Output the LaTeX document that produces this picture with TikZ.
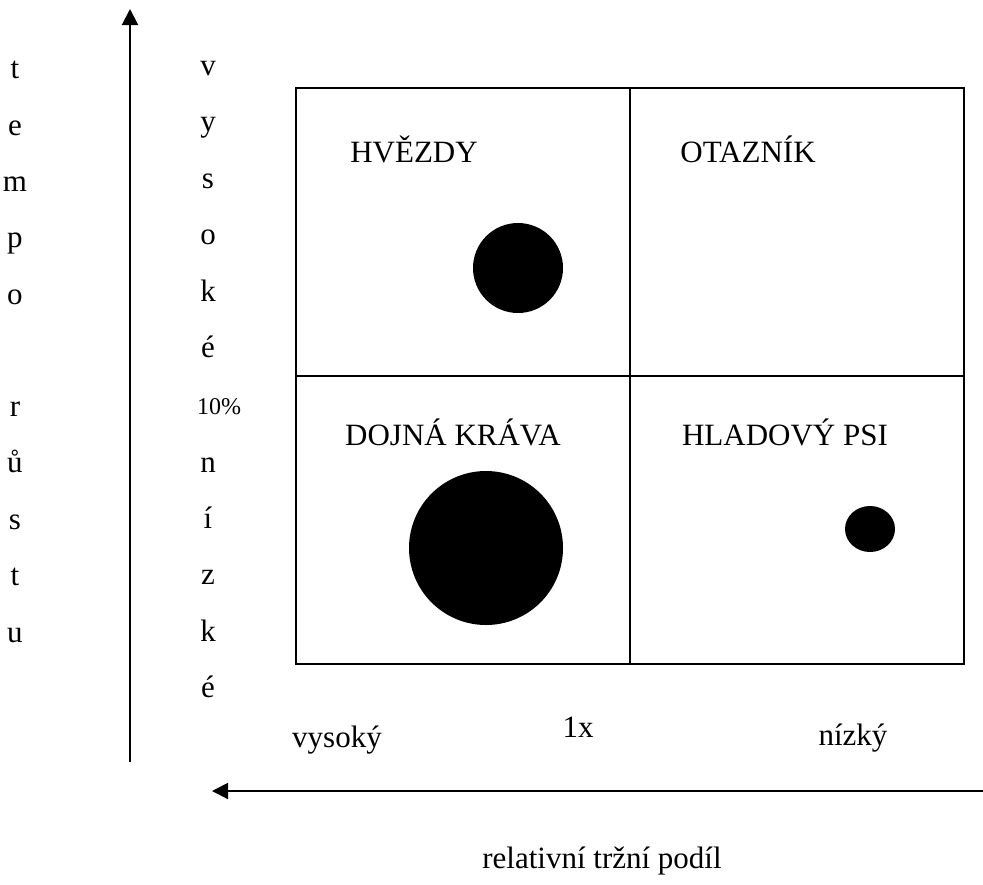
\documentclass[tikz,border=0pt]{standalone}
\usepackage{fontspec}
\setmainfont{Liberation Serif}
\usetikzlibrary{arrows.meta}
\begin{document}
\begin{tikzpicture}[x=0.5pt,y=-0.5pt,
  lbl/.style={inner sep=0pt,anchor=base,font=\fontsize{15.5pt}{18pt}\selectfont},
  small/.style={inner sep=0pt,anchor=base,font=\fontsize{12pt}{14pt}\selectfont},
  grid/.style={line width=1pt},
  blob/.style={fill=black},
  axis/.style={line width=1pt,-{Triangle[length=8pt,width=8pt]}}]
\useasboundingbox (0,0) rectangle (983,884);
% grid
\draw[grid] (296,88) rectangle (964,664);
\draw[grid] (630,88) -- (630,664);
\draw[grid] (296,376) -- (964,376);
% circles
\fill[blob] (518,268) ellipse [x radius=45, y radius=45];
\fill[blob] (486,548) ellipse [x radius=77, y radius=77];
\fill[blob] (870,529) ellipse [x radius=25, y radius=23];
% quadrant labels
\node[lbl] (hv) at (414,162) {HVĚZDY};
\node[lbl] (ot) at (748,162) {OTAZNÍK};
\node[lbl] (dk) at (453,445) {DOJNÁ KRÁVA};
\node[lbl] (hp) at (785,445) {HLADOVÝ PSI};
% axes
\coordinate (vb) at (130,762);
\coordinate (vt) at (130,9);
\draw[axis] (vb) -- (vt);
\coordinate (hr) at (983,791);
\coordinate (hl) at (212,791);
\draw[axis] (hr) -- (hl);
% left column: tempo rustu
\foreach \t/\y [count=\i] in {t/78,e/135,m/191,p/247,o/304,r/416,ů/472,s/529,t/585,u/642}
  \node[lbl] (a\i) at (15,\y) {\t};
% second column
\foreach \t/\y [count=\i] in {v/75,y/131,s/188,o/244,k/301,é/357,n/472,í/528,z/584,k/641,é/697}
  \node[lbl] (b\i) at (208,\y) {\t};
\node[small] (pct) at (219,414) {10\%};
% bottom labels
\node[lbl] (vys) at (337,747) {vysoký};
\node[lbl] (onex) at (578,737) {1x};
\node[lbl] (niz) at (853,745) {nízký};
\node[lbl] (rel) at (602,868) {relativní tržní podíl};
\end{tikzpicture}
\end{document}
